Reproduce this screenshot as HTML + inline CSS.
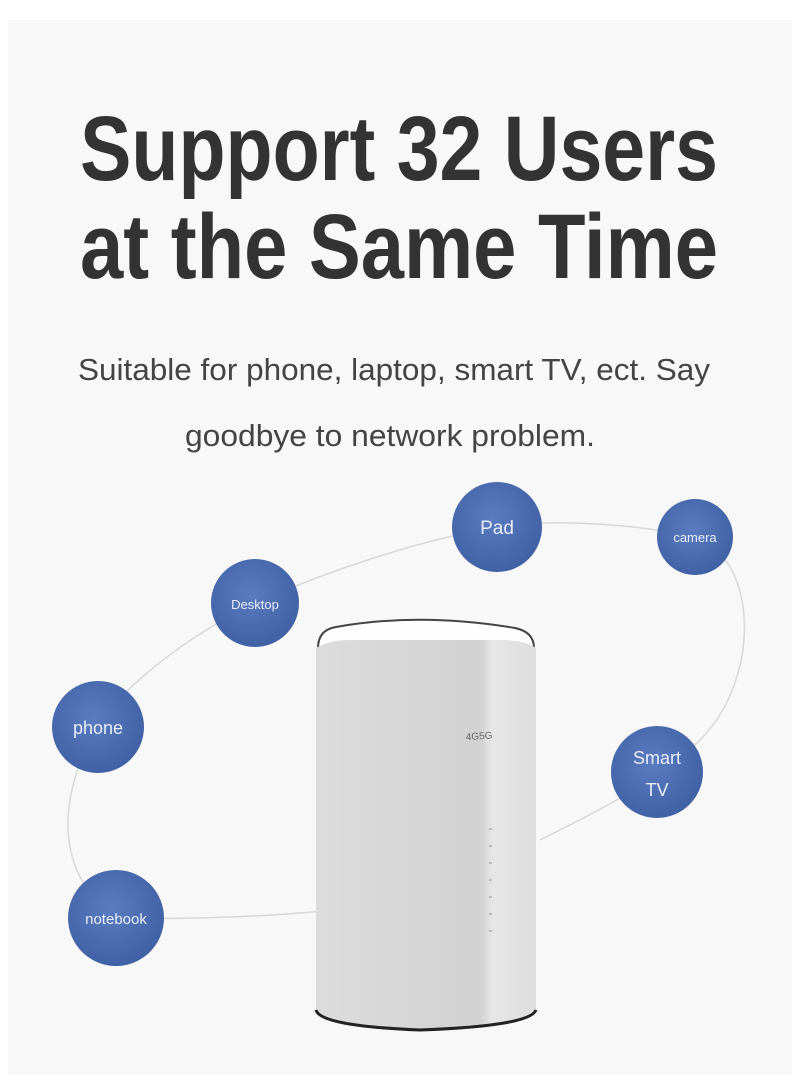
<!DOCTYPE html>
<html><head><meta charset="utf-8"><style>
html,body{margin:0;padding:0;background:#fff;width:800px;height:1092px;overflow:hidden}
</style></head><body>
<svg width="800" height="1092" viewBox="0 0 800 1092" xmlns="http://www.w3.org/2000/svg">
<defs>
<radialGradient id="cg" cx="45%" cy="40%" r="65%">
<stop offset="0" stop-color="#5b7cc0"/><stop offset="1" stop-color="#3f5fa3"/>
</radialGradient>
<linearGradient id="rb" x1="0" x2="1">
<stop offset="0" stop-color="#dcdcdc"/><stop offset="0.75" stop-color="#d2d2d2"/><stop offset="0.8" stop-color="#e6e6e6"/><stop offset="1" stop-color="#dedede"/>
</linearGradient>
</defs>
<rect x="8" y="20" width="784" height="1055" fill="#f8f8f8"/>
<g font-family="Liberation Sans, sans-serif" fill="#333">
<text x="80" y="180" font-size="92" font-weight="bold" textLength="638" lengthAdjust="spacingAndGlyphs">Support 32 Users</text>
<text x="80" y="278" font-size="92" font-weight="bold" textLength="638" lengthAdjust="spacingAndGlyphs">at the Same Time</text>
</g>
<g font-family="Liberation Sans, sans-serif" fill="#444" font-size="31">
<text x="78" y="380" textLength="632" lengthAdjust="spacingAndGlyphs">Suitable for phone, laptop, smart TV, ect. Say</text>
<text x="185" y="446" textLength="410" lengthAdjust="spacingAndGlyphs">goodbye to network problem.</text>
</g>
<g fill="none" stroke="#d8d8d8" stroke-width="1.5">
<path d="M497 527 C420 540 330 570 255 603 C180 640 120 690 98 727 C60 790 50 870 116 918 C200 920 290 915 330 910"/>
<path d="M497 527 C560 518 640 525 695 537 C760 560 760 680 700 740 C660 780 600 810 540 840"/>
</g>
<!-- router -->
<path d="M318 648 Q318 630 336 627 Q420 612 515 628 Q534 632 534 648 Z" fill="#fefefe" stroke="#444" stroke-width="2"/>
<path d="M316 648 Q330 640 350 640 L500 640 Q525 640 536 648 L536 1010 Q530 1026 420 1030 Q320 1026 316 1010 Z" fill="url(#rb)"/>
<path d="M316 1010 Q320 1026 420 1030 Q530 1026 536 1010" fill="none" stroke="#222" stroke-width="3"/>
<text x="466" y="740" font-family="Liberation Sans, sans-serif" font-size="10" fill="#666" transform="rotate(-4 470 740)">4G5G</text>
<g fill="#bbb"><rect x="489" y="828" width="3" height="2"/><rect x="489" y="845" width="3" height="2"/><rect x="489" y="862" width="3" height="2"/><rect x="489" y="879" width="3" height="2"/><rect x="489" y="896" width="3" height="2"/><rect x="489" y="913" width="3" height="2"/><rect x="489" y="930" width="3" height="2"/></g>
<g fill="url(#cg)">
<circle cx="497" cy="527" r="45"/>
<circle cx="695" cy="537" r="38"/>
<circle cx="255" cy="603" r="44"/>
<circle cx="98" cy="727" r="46"/>
<circle cx="657" cy="772" r="46"/>
<circle cx="116" cy="918" r="48"/>
</g>
<g font-family="Liberation Sans, sans-serif" fill="#e8eef8" text-anchor="middle">
<text x="497" y="534" font-size="19">Pad</text>
<text x="695" y="542" font-size="13">camera</text>
<text x="255" y="609" font-size="13">Desktop</text>
<text x="98" y="734" font-size="18">phone</text>
<text x="657" y="764" font-size="18">Smart</text>
<text x="657" y="796" font-size="18">TV</text>
<text x="116" y="924" font-size="15">notebook</text>
</g>
</svg>
</body></html>
